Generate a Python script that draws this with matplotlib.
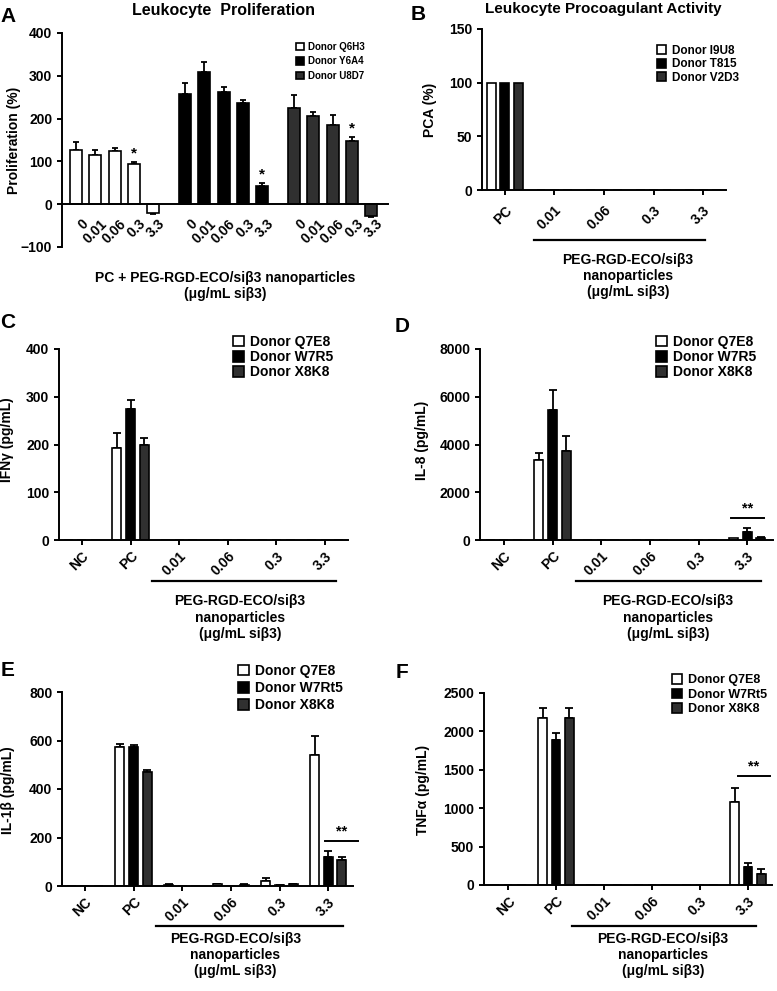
import numpy as np
import matplotlib
matplotlib.use('Agg')
import matplotlib.pyplot as plt
from matplotlib.patches import Patch
from matplotlib.transforms import blended_transform_factory

plt.rcParams['font.family'] = ['Liberation Sans', 'DejaVu Sans']
plt.rcParams['font.weight'] = 'bold'
plt.rcParams['axes.linewidth'] = 1.4
plt.rcParams['xtick.major.width'] = 1.4
plt.rcParams['ytick.major.width'] = 1.4
plt.rcParams['xtick.major.size'] = 3.5
plt.rcParams['ytick.major.size'] = 3.5

W, H = 777, 991
COLORS = ['white', 'black', '#303030']

# ---- data ----
# A: proliferation, grouped by donor, bars = concentration
conc_a = ['0', '0.01', '0.06', '0.3', '3.3']
donors_a = ['Donor Q6H3', 'Donor Y6A4', 'Donor U8D7']
prolif_mean = [[126, 116, 124, 95, -20],
               [258, 310, 262, 236, 42],
               [224, 205, 186, 147, -27]]
prolif_sem = [[20, 11, 7, 3, 4],
              [26, 22, 12, 8, 8],
              [32, 11, 23, 9, 2]]
prolif_star = [3, 4, 3]

# B: procoagulant activity
cats_b = ['PC', '0.01', '0.06', '0.3', '3.3']
donors_b = ['Donor I9U8', 'Donor T815', 'Donor V2D3']
pca_mean = [[100, 0, 0, 0, 0],
            [100, 0, 0, 0, 0],
            [100, 0, 0, 0, 0]]

# C-F: cytokines
cats = ['NC', 'PC', '0.01', '0.06', '0.3', '3.3']
donors_cd = ['Donor Q7E8', 'Donor W7R5', 'Donor X8K8']
donors_ef = ['Donor Q7E8', 'Donor W7Rt5', 'Donor X8K8']

ifng_mean = [[0, 192, 0, 0, 0, 0], [0, 275, 0, 0, 0, 0], [0, 200, 0, 0, 0, 0]]
ifng_sem = [[0, 33, 0, 0, 0, 0], [0, 18, 0, 0, 0, 0], [0, 13, 0, 0, 0, 0]]

il8_mean = [[0, 3350, 0, 0, 0, 80], [0, 5450, 0, 0, 0, 350], [0, 3730, 0, 0, 0, 90]]
il8_sem = [[0, 280, 0, 0, 0, 0], [0, 830, 0, 0, 0, 140], [0, 630, 0, 0, 0, 40]]

il1b_mean = [[0, 575, 5, 7, 22, 540], [0, 575, 0, 0, 4, 120], [0, 470, 0, 5, 7, 106]]
il1b_sem = [[0, 10, 3, 3, 13, 80], [0, 5, 0, 0, 2, 24], [0, 8, 0, 3, 3, 14]]

tnfa_mean = [[0, 2175, 0, 0, 0, 1075], [0, 1890, 0, 0, 0, 230], [0, 2180, 0, 0, 0, 143]]
tnfa_sem = [[0, 130, 0, 0, 0, 185], [0, 88, 0, 0, 0, 60], [0, 125, 0, 0, 0, 60]]

np_label = 'PEG-RGD-ECO/si\u03b23\nnanoparticles\n(\u03bcg/mL si\u03b23)'
TICK_FS = 10


def rect(l, t, r, b):
    return [l / W, 1 - b / H, (r - l) / W, (b - t) / H]


def draw_bars(ax, x, mean, sem, width):
    for k in range(3):
        xs = np.asarray(x[k], dtype=float)
        m = np.asarray(mean[k], dtype=float)
        ax.bar(xs, m, width, color=COLORS[k], edgecolor='black', linewidth=1.2, zorder=2)
        if sem is None:
            continue
        s = np.asarray(sem[k], dtype=float)
        keep = s > 0
        if not keep.any():
            continue
        up = np.where(m >= 0, s, 0)[keep]
        dn = np.where(m < 0, s, 0)[keep]
        ax.errorbar(xs[keep], m[keep], yerr=[dn, up], fmt='none', ecolor='black',
                    elinewidth=1.3, capsize=3, capthick=1.3, zorder=1)


def style(ax):
    ax.spines['top'].set_visible(False)
    ax.spines['right'].set_visible(False)
    ax.tick_params(labelsize=TICK_FS)
    for lbl in ax.get_yticklabels():
        lbl.set_fontweight('bold')


def legend(ax, labels, px, py, fs, spacing):
    handles = [Patch(facecolor=c, edgecolor='black', linewidth=1.2) for c in COLORS]
    ax.legend(handles, labels, loc='upper left', bbox_to_anchor=(px / W, 1 - py / H),
              bbox_transform=fig.transFigure, frameon=False, borderpad=0, borderaxespad=0,
              handlelength=0.8, handleheight=0.8, handletextpad=0.45,
              labelspacing=spacing, prop={'size': fs, 'weight': 'bold'})


def bracket(ax, x0, x1, y, ytext_x, ytext_y):
    tr = blended_transform_factory(ax.transData, ax.transAxes)
    ax.plot([x0, x1], [y, y], color='black', lw=1.6, transform=tr, clip_on=False)
    ax.text(ytext_x, ytext_y, np_label, transform=tr, ha='center', va='top',
            fontsize=10, fontweight='bold', linespacing=1.2)


def stars(ax, x0, x1, yline, ystar):
    ax.plot([x0, x1], [yline, yline], color='black', lw=1.4, clip_on=False)
    ax.text((x0 + x1) / 2, ystar, '**', ha='center', va='center', fontsize=10.5, fontweight='bold')


def ylabel(px, py, text):
    fig.text(px / W, 1 - py / H, text, rotation=90, ha='center', va='center',
             fontsize=10, fontweight='bold')


def cytokine_panel(ax, mean, sem, ymax, ystep, xlim):
    x = np.arange(len(cats))
    offs = [-0.28, 0, 0.28]
    draw_bars(ax, [x + o for o in offs], mean, sem, 0.185)
    ax.set_xlim(*xlim)
    ax.set_ylim(0, ymax)
    ax.set_yticks(np.arange(0, ymax + 1, ystep))
    ax.set_xticks(x)
    ax.set_xticklabels(cats, rotation=45, ha='right', rotation_mode='anchor', fontweight='bold')
    style(ax)
    ax.tick_params(axis='x', pad=3)


fig = plt.figure(figsize=(W / 100, H / 100), dpi=100)

# ---- A ----
axA = fig.add_axes(rect(62, 33, 388, 247))
xa = [np.arange(5) + g * 5.65 for g in range(3)]
for g in range(3):
    m = np.asarray(prolif_mean[g], float)
    s = np.asarray(prolif_sem[g], float)
    axA.bar(xa[g], m, 0.62, color=COLORS[g], edgecolor='black', linewidth=1.2, zorder=2)
    up = np.where(m >= 0, s, 0)
    dn = np.where(m < 0, s, 0)
    axA.errorbar(xa[g], m, yerr=[dn, up], fmt='none', ecolor='black', elinewidth=1.3,
                 capsize=2.5, capthick=1.3, zorder=1)
    i = prolif_star[g]
    axA.text(xa[g][i], m[i] + s[i] + 4, '*', ha='center', va='bottom', fontsize=11, fontweight='bold')
axA.set_xlim(-0.73, 16.17)
axA.set_ylim(-100, 400)
axA.set_yticks(np.arange(-100, 401, 100))
axA.spines['bottom'].set_position(('data', 0))
axA.set_xticks(np.concatenate(xa) + 0.25)
axA.set_xticklabels(conc_a * 3, rotation=45, ha='right', rotation_mode='anchor', fontweight='bold')
style(axA)
axA.tick_params(axis='x', length=0, pad=9)
fig.text(224 / W, 1 - 10 / H, 'Leukocyte  Proliferation', ha='center', va='center',
         fontsize=11.5, fontweight='bold')
ylabel(14, 140, 'Proliferation (%)')
axA.text(7.72, -0.112, 'PC + PEG-RGD-ECO/si\u03b23 nanoparticles\n(\u03bcg/mL si\u03b23)',
         transform=blended_transform_factory(axA.transData, axA.transAxes),
         ha='center', va='top', fontsize=10, fontweight='bold', linespacing=1.2)
legend(axA, donors_a, 296, 42, 7, 0.45)

# ---- B ----
axB = fig.add_axes(rect(482, 29, 726, 190))
xb = np.arange(len(cats_b))
draw_bars(axB, [xb - 0.27, xb, xb + 0.27], pca_mean, None, 0.18)
axB.set_xlim(-0.46, 4.46)
axB.set_ylim(0, 150)
axB.set_yticks([0, 50, 100, 150])
axB.set_xticks(xb)
axB.set_xticklabels(cats_b, rotation=45, ha='right', rotation_mode='anchor', fontweight='bold')
style(axB)
axB.tick_params(axis='x', pad=6)
fig.text(603 / W, 1 - 9 / H, 'Leukocyte Procoagulant Activity', ha='center', va='center',
         fontsize=11, fontweight='bold')
ylabel(430, 110, 'PCA (%)')
bracket(axB, 0.59, 4.04, -0.31, 2.48, -0.39)
legend(axB, donors_b, 657, 45, 8.5, 0.12)

# ---- C ----
axC = fig.add_axes(rect(59, 349, 348, 540))
cytokine_panel(axC, ifng_mean, ifng_sem, 400, 100, (-0.47, 5.47))
ylabel(7, 440, 'IFN\u03b3 (pg/mL)')
bracket(axC, 1.44, 5.23, -0.215, 3.25, -0.285)
legend(axC, donors_cd, 233, 335, 10, 0.08)

# ---- D ----
axD = fig.add_axes(rect(480, 349, 773, 540))
cytokine_panel(axD, il8_mean, il8_sem, 8000, 2000, (-0.49, 5.53))
ylabel(422, 440, 'IL-8 (pg/mL)')
bracket(axD, 1.48, 5.29, -0.215, 3.37, -0.285)
stars(axD, 4.67, 5.35, 908, 1330)
legend(axD, donors_cd, 656, 335, 10, 0.08)

# ---- E ----
axE = fig.add_axes(rect(62, 692, 353, 886))
cytokine_panel(axE, il1b_mean, il1b_sem, 800, 200, (-0.47, 5.51))
ylabel(8, 790, 'IL-1\u03b2 (pg/mL)')
bracket(axE, 1.46, 5.31, -0.206, 3.09, -0.235)
stars(axE, 4.94, 5.62, 184, 223)
legend(axE, donors_ef, 238, 664, 10, 0.22)

# ---- F ----
axF = fig.add_axes(rect(484, 693, 772, 885))
cytokine_panel(axF, tnfa_mean, tnfa_sem, 2500, 500, (-0.5, 5.5))
ylabel(423, 790, 'TNF\u03b1 (pg/mL)')
bracket(axF, 1.33, 5.17, -0.214, 3.23, -0.245)
stars(axF, 4.79, 5.46, 1422, 1543)
legend(axF, donors_ef, 672, 674, 9, 0.2)

# panel letters
for letter, px, py in [('A', 8, 16), ('B', 418, 14), ('C', 8, 323), ('D', 402, 327),
                       ('E', 8, 670), ('F', 402, 673)]:
    fig.text(px / W, 1 - py / H, letter, ha='center', va='center', fontsize=15, fontweight='bold')

fig.savefig('out.png', dpi=100)
